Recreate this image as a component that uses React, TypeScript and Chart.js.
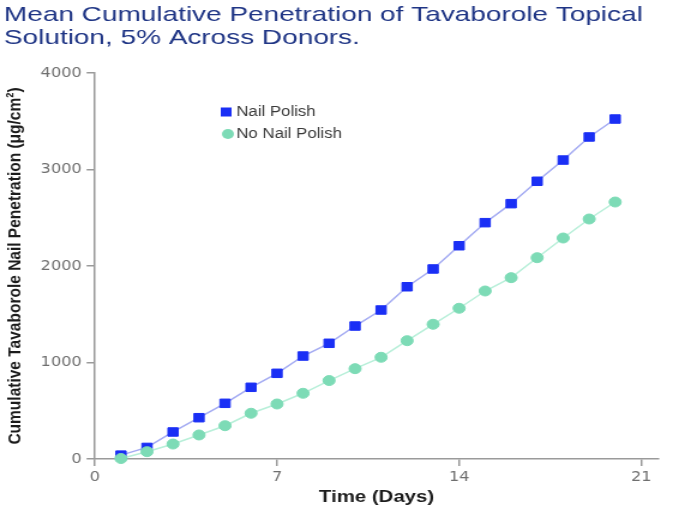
import React, { useEffect, useRef } from 'react';
import { Chart, registerables } from 'chart.js';

Chart.register(...registerables);

// ---- data ----
const TITLE_LINES = ['Mean Cumulative Penetration of Tavaborole Topical', 'Solution, 5% Across Donors.'];
const SERIES_LABELS = ['Nail Polish', 'No Nail Polish'];
const DAYS = [1, 2, 3, 4, 5, 6, 7, 8, 9, 10, 11, 12, 13, 14, 15, 16, 17, 18, 19, 20];
const NAIL_POLISH = [40, 120, 280, 428, 577, 743, 888, 1067, 1199, 1378, 1544, 1785, 1969, 2210, 2449, 2646, 2878, 3098, 3337, 3523];
const NO_NAIL_POLISH = [5, 76, 155, 249, 345, 474, 570, 681, 813, 936, 1054, 1226, 1396, 1562, 1741, 1879, 2086, 2290, 2487, 2663];
const X_TICKS = [0, 7, 14, 21];
const Y_TICKS = [0, 1000, 2000, 3000, 4000];
const X_TITLE = 'Time (Days)';
const Y_TITLE = 'Cumulative Tavaborole Nail Penetration (\u03bcg/cm\u00b2)';

// ---- styles ----
const CSS_W = 673;
const CSS_H = 510;
const STRETCH = 1.2;
const W = Math.round(CSS_W / STRETCH);
const H = CSS_H;
const BLUE = '#1a2ff5';
const BLUE_LINE = '#a4abf2';
const GREEN = '#7ddbb6';
const GREEN_LINE = '#b8efd9';
const AXIS = '#9a9a9a';
const TICK_COLOR = '#6f6f6f';
const TITLE_COLOR = '#1f3585';

const titlePlugin = {
  id: 'stretchedTitle',
  afterDraw(chart: any) {
    const ctx = chart.ctx;
    ctx.save();
    ctx.fillStyle = TITLE_COLOR;
    ctx.font = '21px "Liberation Sans", Arial, sans-serif';
    ctx.textAlign = 'left';
    ctx.textBaseline = 'alphabetic';
    ctx.translate(3.3, 0);
    ctx.scale(1.11, 1);
    TITLE_LINES.forEach((t, i) => ctx.fillText(t, 0, 21 + i * 23));
    ctx.restore();
  },
};

const legendPlugin = {
  id: 'insideLegend',
  afterDatasetsDraw(chart: any) {
    const ctx = chart.ctx;
    const items = chart.data.datasets;
    ctx.save();
    items.forEach((ds: any, i: number) => {
      const cy = 112 + i * 22;
      ctx.fillStyle = ds.pointBackgroundColor;
      if (ds.pointStyle === 'rect') {
        ctx.fillRect(188.5 - 4.5, cy - 4.5, 9, 9);
      } else {
        ctx.beginPath();
        ctx.arc(190, cy, 5, 0, Math.PI * 2);
        ctx.fill();
      }
      ctx.fillStyle = '#3a3a3a';
      ctx.font = '14px "Liberation Sans", Arial, sans-serif';
      ctx.textAlign = 'left';
      ctx.textBaseline = 'middle';
      ctx.fillText(ds.label, 197, cy + 0.5);
    });
    ctx.restore();
  },
};

export default function App() {
  const ref = useRef<HTMLCanvasElement | null>(null);

  useEffect(() => {
    if (!ref.current) return;
    const tickFont = { family: '"DejaVu Sans", sans-serif', size: 13.5 };
    const chart = new Chart(ref.current, {
      type: 'line',
      data: {
        datasets: [
          {
            label: SERIES_LABELS[0],
            data: DAYS.map((d, i) => ({ x: d, y: NAIL_POLISH[i] })),
            borderColor: BLUE_LINE,
            borderWidth: 1.5,
            pointStyle: 'rect',
            pointRadius: 6,
            pointBorderWidth: 1,
            pointBackgroundColor: BLUE,
            pointBorderColor: BLUE,
            tension: 0,
            order: 2,
            clip: false,
          },
          {
            label: SERIES_LABELS[1],
            data: DAYS.map((d, i) => ({ x: d, y: NO_NAIL_POLISH[i] })),
            borderColor: GREEN_LINE,
            borderWidth: 1.5,
            pointStyle: 'circle',
            pointRadius: 5,
            pointBorderWidth: 1,
            pointBackgroundColor: GREEN,
            pointBorderColor: GREEN,
            tension: 0,
            order: 1,
            clip: false,
          },
        ],
      },
      options: {
        responsive: false,
        animation: false,
        devicePixelRatio: 1,
        layout: { padding: { top: 73, right: W - 658.3 / STRETCH, left: 0, bottom: 0 } },
        plugins: {
          legend: { display: false },
          title: { display: false },
          tooltip: { enabled: false },
        },
        scales: {
          x: {
            type: 'linear',
            min: 0,
            max: 21.65,
            afterBuildTicks: (s: any) => {
              s.ticks = X_TICKS.map((v) => ({ value: v }));
            },
            afterFit: (s: any) => {
              s.height = H - 459;
            },
            grid: { display: true, drawOnChartArea: false, drawTicks: true, tickLength: 7, color: AXIS, lineWidth: 1.5 },
            border: { display: true, color: AXIS, width: 1.5 },
            ticks: { font: tickFont, color: TICK_COLOR, padding: 3, maxRotation: 0, autoSkip: false, callback: (v: any) => String(v) },
            title: {
              display: true,
              text: X_TITLE,
              color: '#1c1c1c',
              font: { family: '"Liberation Sans", Arial, sans-serif', size: 17, weight: 'bold' },
              padding: { top: 0, bottom: 2 },
            },
          },
          y: {
            type: 'linear',
            min: 0,
            max: 4000,
            afterBuildTicks: (s: any) => {
              s.ticks = Y_TICKS.map((v) => ({ value: v }));
            },
            afterFit: (s: any) => {
              s.width = 95 / STRETCH;
            },
            grid: { display: true, drawOnChartArea: false, drawTicks: true, tickLength: 7, color: AXIS, lineWidth: 1.5 },
            border: { display: true, color: AXIS, width: 1.5 },
            ticks: { font: tickFont, color: TICK_COLOR, padding: 4, autoSkip: false, callback: (v: any) => String(v) },
            title: {
              display: true,
              text: Y_TITLE,
              color: '#1c1c1c',
              font: { family: '"Liberation Sans", Arial, sans-serif', size: 15.5, weight: 'bold' },
              padding: { top: 3, bottom: 0 },
            },
          },
        },
      },
      plugins: [titlePlugin, legendPlugin],
    } as any);
    return () => chart.destroy();
  }, []);

  return (
    <div style={{ position: 'fixed', left: 0, top: 0, width: CSS_W, height: CSS_H, overflow: 'hidden', background: '#fff' }}>
      <canvas ref={ref} width={W} height={H} style={{ width: CSS_W + 'px', height: CSS_H + 'px', display: 'block' }} />
    </div>
  );
}
